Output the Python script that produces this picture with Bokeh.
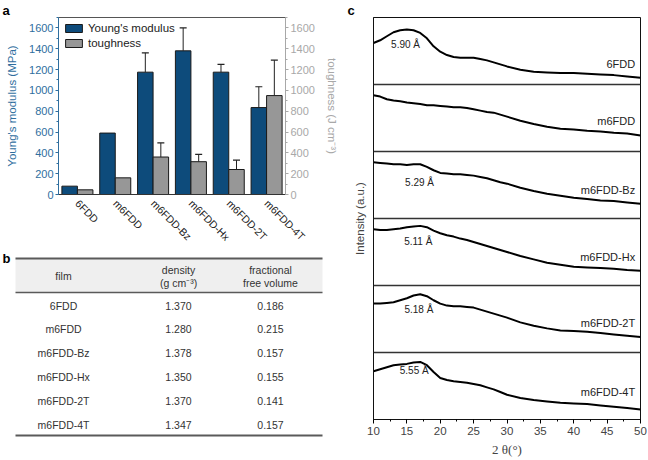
import math
from bokeh.plotting import figure
from bokeh.models import (Range1d, LinearAxis, FactorRange, Label, FixedTicker,
                          SingleIntervalTicker, Legend, LegendItem, ColumnDataSource, Span)
from bokeh.transform import dodge
from bokeh.layouts import row, column
from bokeh.embed import file_html
from bokeh.resources import INLINE
from bokeh.core.properties import value

# ---------------- data ----------------
films = ["6FDD", "m6FDD", "m6FDD-Bz", "m6FDD-Hx", "m6FDD-2T", "m6FDD-4T"]
modulus = [80, 590, 1175, 1380, 1175, 835]
modulus_err_top = [None, None, 1360, 1600, 1250, 1035]
toughness = [45, 160, 360, 315, 240, 950]
toughness_err_top = [None, None, 495, 385, 330, 1290]

density = [1.370, 1.280, 1.378, 1.350, 1.370, 1.347]
ffv = [0.186, 0.215, 0.157, 0.155, 0.141, 0.157]
table_headers = ["film", "density", "(g cm\u207b\u00b3)", "fractional", "free volume"]

two_theta = [10, 11, 12, 13, 14, 15, 16, 17, 18, 19, 20, 21, 22, 23, 24, 25, 26, 27, 28, 29, 30,
             32, 34, 36, 38, 40, 42, 44, 46, 48, 50]
xrd_6FDD = [0.62, 0.66, 0.72, 0.78, 0.81, 0.82, 0.81, 0.77, 0.69, 0.57, 0.49, 0.44, 0.41, 0.40, 0.40,
            0.40, 0.38, 0.36, 0.33, 0.30, 0.27, 0.22, 0.19, 0.18, 0.17, 0.17, 0.16, 0.15, 0.14, 0.12, 0.10]
xrd_m6FDD = [0.84, 0.82, 0.78, 0.76, 0.75, 0.73, 0.72, 0.71, 0.69, 0.69, 0.68, 0.67, 0.66, 0.66, 0.65,
             0.63, 0.61, 0.59, 0.58, 0.55, 0.52, 0.46, 0.41, 0.37, 0.34, 0.33, 0.31, 0.30, 0.28, 0.27, 0.24]
xrd_Bz = [0.84, 0.83, 0.82, 0.81, 0.81, 0.80, 0.81, 0.81, 0.77, 0.72, 0.68, 0.67, 0.66, 0.66, 0.65,
          0.64, 0.62, 0.60, 0.57, 0.54, 0.52, 0.46, 0.41, 0.37, 0.34, 0.31, 0.29, 0.27, 0.26, 0.24, 0.22]
xrd_Hx = [0.84, 0.83, 0.83, 0.84, 0.85, 0.87, 0.88, 0.89, 0.87, 0.82, 0.78, 0.75, 0.73, 0.70, 0.68,
          0.65, 0.62, 0.59, 0.56, 0.53, 0.50, 0.44, 0.39, 0.34, 0.31, 0.28, 0.27, 0.26, 0.25, 0.23, 0.22]
xrd_2T = [0.73, 0.73, 0.74, 0.75, 0.78, 0.81, 0.85, 0.87, 0.84, 0.78, 0.73, 0.70, 0.69, 0.69, 0.68,
          0.67, 0.64, 0.61, 0.58, 0.55, 0.52, 0.45, 0.40, 0.36, 0.33, 0.32, 0.31, 0.29, 0.27, 0.25, 0.23]
xrd_4T = [0.72, 0.75, 0.78, 0.81, 0.82, 0.83, 0.85, 0.86, 0.81, 0.71, 0.62, 0.59, 0.57, 0.56, 0.55,
          0.53, 0.51, 0.48, 0.45, 0.41, 0.37, 0.32, 0.29, 0.27, 0.25, 0.24, 0.23, 0.21, 0.19, 0.17, 0.15]
xrd_curves = [xrd_6FDD, xrd_m6FDD, xrd_Bz, xrd_Hx, xrd_2T, xrd_4T]
d_spacing = ["5.90 \u00c5", None, "5.29 \u00c5", "5.11 \u00c5", "5.18 \u00c5", "5.55 \u00c5"]

# annotation placement (layout, not data)
peak_label_xy = [(14.8, 0.59), None, (16.9, 0.53), (16.7, 0.65), (16.8, 0.64), (16.1, 0.73)]
name_label_y = [0.31, 0.46, 0.43, 0.43, 0.44, 0.41]

FONT = "Liberation Sans"
BLUE = "#0d4b7b"
GRAYBAR = "#979797"
AXBLUE = "#2f6e9e"
AXGRAY = "#a8a8a8"
TXT = "#222222"

# page geometry (px); the page itself has no margin
TOTAL_H = 459
A_L, A_FW, A_R, A_T, A_FH, A_B = 58, 227, 55, 17, 177, 57
C_L, C_FW, C_R, C_T, C_B = 33, 267, 7, 17, 40
C_FH = TOTAL_H - C_T - C_B


def panel_title(p, letter, offset):
    p.title.text = letter
    p.title.align = "left"
    p.title.offset = offset
    p.title.standoff = 0
    p.title.text_font = FONT
    p.title.text_font_size = "13px"
    p.title.text_font_style = "bold"
    p.title.text_color = "black"


# ---------------- panel a ----------------
pa = figure(frame_width=A_FW, frame_height=A_FH, x_range=FactorRange(*films, range_padding=0),
            y_range=Range1d(0, 1700), output_backend="svg", toolbar_location=None,
            min_border_left=A_L, min_border_right=A_R, min_border_top=A_T, min_border_bottom=A_B)
pa.frame_align = False
panel_title(pa, "a", -A_L + 2)
pa.extra_y_ranges = {"t": Range1d(0, 1700)}
src = ColumnDataSource(dict(film=films, mod=modulus, tough=toughness))
off = 0.205
r1 = pa.vbar(x=dodge("film", -off, range=pa.x_range), top="mod", width=0.41, source=src,
             fill_color=BLUE, line_color="#1a1a1a", line_width=1)
r2 = pa.vbar(x=dodge("film", off, range=pa.x_range), top="tough", width=0.41, source=src,
             fill_color=GRAYBAR, line_color="#1a1a1a", line_width=1, y_range_name="t")

for vals, errs, o, rng in [(modulus, modulus_err_top, -off, "default"),
                           (toughness, toughness_err_top, off, "t")]:
    ef = [f for f, e in zip(films, errs) if e is not None]
    ev = [v for v, e in zip(vals, errs) if e is not None]
    ee = [e for e in errs if e is not None]
    es = ColumnDataSource(dict(film=ef, v=ev, e=ee))
    pa.segment(x0=dodge("film", o, range=pa.x_range), y0="v", x1=dodge("film", o, range=pa.x_range),
               y1="e", source=es, line_color="#222222", line_width=1, y_range_name=rng)
    pa.scatter(x=dodge("film", o, range=pa.x_range), y="e", marker="dash", size=7, source=es,
               line_color="#222222", line_width=1.2, y_range_name=rng)

pa.xgrid.grid_line_color = None
pa.ygrid.grid_line_color = None
pa.outline_line_color = "#555555"

ya = pa.yaxis[0]
ya.ticker = SingleIntervalTicker(interval=200, num_minor_ticks=2)
ya.axis_label = "Young's modulus (MPa)"
ya.axis_line_color = AXBLUE
ya.major_tick_line_color = AXBLUE
ya.minor_tick_line_color = AXBLUE
ya.major_label_text_color = AXBLUE
ya.axis_label_text_color = AXBLUE

yr = LinearAxis(y_range_name="t", ticker=SingleIntervalTicker(interval=200, num_minor_ticks=2),
                axis_label="toughness (J cm\u207b\u00b3)")
yr.axis_line_color = AXGRAY
yr.major_tick_line_color = AXGRAY
yr.minor_tick_line_color = AXGRAY
yr.major_label_text_color = AXGRAY
yr.axis_label_text_color = AXGRAY
pa.add_layout(yr, "right")

for ax in (ya, yr):
    ax.major_tick_out = 3
    ax.major_tick_in = 0
    ax.minor_tick_out = 2
    ax.minor_tick_in = 0
    ax.major_label_text_font = FONT
    ax.major_label_text_font_size = "11px"
    ax.axis_label_text_font = FONT
    ax.axis_label_text_font_size = "11.5px"
    ax.axis_label_text_font_style = "normal"
    ax.axis_label_standoff = 8
    ax.major_label_standoff = 2

xa = pa.xaxis[0]
xa.major_label_orientation = -math.pi / 4
xa.major_label_text_font = FONT
xa.major_label_text_font_size = "10.5px"
xa.major_label_text_color = TXT
xa.major_tick_line_color = None
xa.axis_line_color = "#333333"
xa.major_label_standoff = 1

legend = Legend(items=[LegendItem(label="Young's modulus", renderers=[r1]),
                       LegendItem(label="toughness", renderers=[r2])],
                location="top_left", glyph_width=21, glyph_height=10, label_standoff=4,
                spacing=3, padding=1, margin=5, border_line_color=None, background_fill_alpha=0,
                label_text_font=FONT, label_text_font_size="11.5px", label_height=10,
                label_text_color=TXT)
pa.add_layout(legend)

# ---------------- panel b (table) ----------------
top_b = A_T + A_FH + A_B          # page y of pb's top
B_H = TOTAL_H - top_b
W_AB = A_L + A_FW + A_R
pb = figure(frame_width=W_AB, frame_height=B_H, x_range=Range1d(0, W_AB),
            y_range=Range1d(top_b + B_H, top_b), output_backend="svg", toolbar_location=None,
            min_border=0)
pb.frame_align = False
pb.axis.visible = False
pb.xgrid.grid_line_color = None
pb.ygrid.grid_line_color = None
pb.outline_line_color = None
tx0, tx1 = 15, 322
y_top, y_head, y_bot = 258, 292, 435
pb.quad(left=tx0, right=tx1, top=y_top, bottom=y_head, fill_color="#efefef", line_color=None)
pb.segment(x0=[tx0] * 3, x1=[tx1] * 3, y0=[y_top, y_head, y_bot], y1=[y_top, y_head, y_bot],
           line_width=[2.2, 1.5, 2.2], line_color="#5a5a5a")
col_x = [63, 178, 270]
hsrc = ColumnDataSource(dict(x=[col_x[0], col_x[1], col_x[1], col_x[2], col_x[2]],
                             y=[y_top + 17, y_top + 11.5, y_top + 24, y_top + 11.5, y_top + 24.5],
                             t=table_headers))
pb.text(x="x", y="y", text="t", source=hsrc, text_align="center", text_baseline="middle",
        text_font=value(FONT), text_font_size="10.5px", text_color="#333333")
row_y = [y_head + 13 + 23.8 * k for k in range(len(films))]
bsrc = ColumnDataSource(dict(y=row_y, f=films, d=[f"{v:.3f}" for v in density],
                             v=[f"{v:.3f}" for v in ffv]))
for cx, fld in zip(col_x, ["f", "d", "v"]):
    pb.text(x=cx, y="y", text=fld, source=bsrc, text_align="center", text_baseline="middle",
            text_font=value(FONT), text_font_size="10.5px", text_color="#333333")
pb.text(x=[2], y=[top_b - 1], text=["b"], text_align="left", text_baseline="top",
        text_font=value(FONT), text_font_size="13px", text_font_style="bold", text_color="black")

# ---------------- panel c ----------------
n = len(xrd_curves)
pc = figure(frame_width=C_FW, frame_height=C_FH, x_range=Range1d(10, 50), y_range=Range1d(0, n),
            output_backend="svg", toolbar_location=None,
            min_border_left=C_L, min_border_right=C_R, min_border_top=C_T, min_border_bottom=C_B)
pc.frame_align = False
panel_title(pc, "c", -C_L + 7)
pc.xgrid.grid_line_color = None
pc.ygrid.grid_line_color = None
pc.outline_line_color = "#111111"
pc.xaxis.ticker = SingleIntervalTicker(interval=5, num_minor_ticks=2)
pc.xaxis.axis_label = "2 \u03b8(\u00b0)"
pc.xaxis.axis_label_text_font = "Liberation Serif"
pc.xaxis.axis_label_text_font_size = "13px"
pc.xaxis.axis_label_text_font_style = "normal"
pc.xaxis.axis_label_standoff = 4
pc.xaxis.major_label_text_font = FONT
pc.xaxis.major_label_text_font_size = "11.5px"
pc.xaxis.major_label_standoff = 3
pc.xaxis.major_tick_out = 4
pc.xaxis.major_tick_in = 0
pc.xaxis.minor_tick_out = 2
pc.xaxis.minor_tick_in = 0
pc.xaxis.axis_line_color = "#111111"
pc.yaxis.ticker = FixedTicker(ticks=[])
pc.yaxis.axis_label = "Intensity (a.u.)"
pc.yaxis.axis_label_text_font = FONT
pc.yaxis.axis_label_text_font_size = "11.5px"
pc.yaxis.axis_label_text_font_style = "normal"
pc.yaxis.axis_line_color = "#111111"
pc.yaxis.axis_label_standoff = 8

for k in range(1, n):
    pc.add_layout(Span(location=k, dimension="width", line_color="#333333", line_width=1.3))

for i, (name, ys) in enumerate(zip(films, xrd_curves)):
    base = n - 1 - i
    pc.line(two_theta, [base + v for v in ys], line_color="black", line_width=2)
    pc.add_layout(Label(x=49.2, y=base + name_label_y[i], text=name, text_align="right",
                        text_baseline="middle", text_font=FONT, text_font_size="11px",
                        text_color=TXT))
    if d_spacing[i] is not None:
        lx, ly = peak_label_xy[i]
        pc.add_layout(Label(x=lx, y=base + ly, text=d_spacing[i], text_align="center",
                            text_baseline="middle", text_font=FONT, text_font_size="10px",
                            text_color=TXT))

layout = row(column(pa, pb), pc)
open("out.html", "w").write(file_html(layout, INLINE))
